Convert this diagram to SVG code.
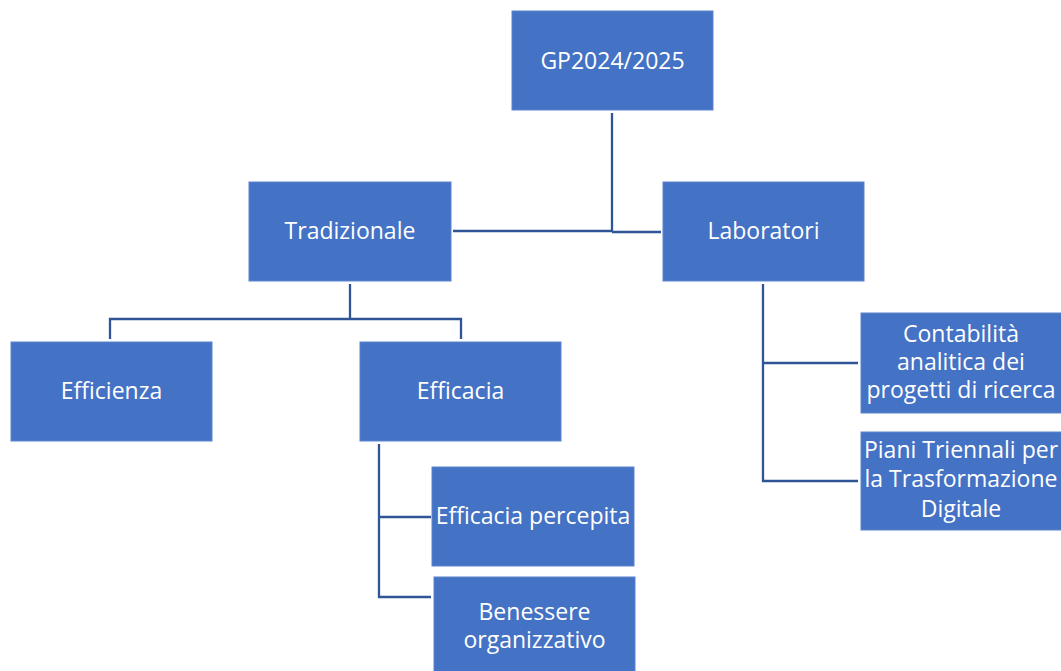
<svg xmlns="http://www.w3.org/2000/svg" width="1061" height="671" viewBox="0 0 1061 671">
<style>
.box{fill:#4472C4;stroke:#5B84CC;stroke-width:1}
.t{font-family:"Open Sans","Noto Sans",sans-serif;font-size:23px;fill:#ffffff;text-anchor:middle}
.c{fill:none;stroke:#2F5597;stroke-width:2.3}
</style>
<rect width="1061" height="671" fill="#ffffff"/>
<g id="connectors">
<path class="c" d="M612,113 V231 M453,231 H612 M612,232 H661"/>
<path class="c" d="M350,284 V319 M110,339 V319 H461 V339"/>
<path class="c" d="M379,444 V597 H431 M379,517 H431"/>
<path class="c" d="M763,284 V481 H858 M763,363 H858"/>
</g>
<g id="n-gp"><rect class="box" x="512" y="11" width="201" height="99"/><text class="t" x="612.5" y="69">GP2024/2025</text></g>
<g id="n-trad"><rect class="box" x="249" y="182" width="202" height="99"/><text class="t" x="350" y="239">Tradizionale</text></g>
<g id="n-lab"><rect class="box" x="663" y="182" width="201" height="99"/><text class="t" x="763.5" y="239">Laboratori</text></g>
<g id="n-effz"><rect class="box" x="11" y="342" width="201" height="99"/><text class="t" x="111.5" y="399">Efficienza</text></g>
<g id="n-effc"><rect class="box" x="360" y="342" width="201" height="99"/><text class="t" x="460.5" y="399">Efficacia</text></g>
<g id="n-perc"><rect class="box" x="432" y="467" width="202" height="99"/><text class="t" x="533" y="524">Efficacia percepita</text></g>
<g id="n-ben"><rect class="box" x="434" y="577" width="201" height="99"/><text class="t" x="534.5"><tspan x="534.5" y="620">Benessere</tspan><tspan x="534.5" y="648">organizzativo</tspan></text></g>
<g id="n-cont"><rect class="box" x="861" y="313" width="201" height="100"/><text class="t"><tspan x="961" y="342">Contabilità</tspan><tspan x="961" y="370">analitica dei</tspan><tspan x="961" y="398">progetti di ricerca</tspan></text></g>
<g id="n-piani"><rect class="box" x="861" y="432" width="201" height="98"/><text class="t"><tspan x="961" y="458">Piani Triennali per</tspan><tspan x="961" y="487">la Trasformazione</tspan><tspan x="961" y="517">Digitale</tspan></text></g>
</svg>
